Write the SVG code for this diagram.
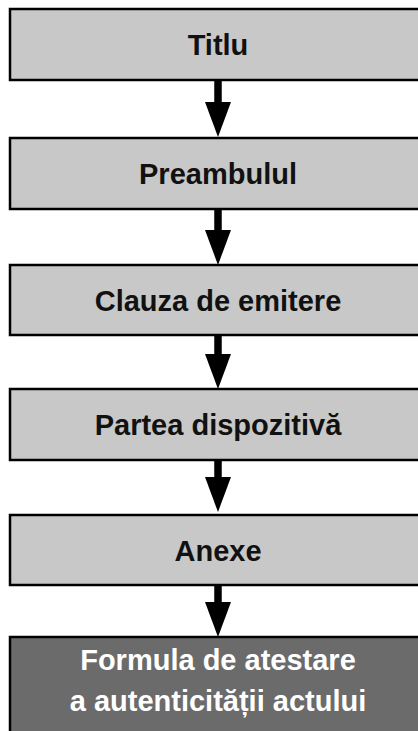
<svg xmlns="http://www.w3.org/2000/svg" width="418" height="731" viewBox="0 0 418 731">
<style>
.box{fill:#c8c8c8;stroke:#000;stroke-width:2.5}
.dark{fill:#6b6b6b;stroke:#000;stroke-width:2.5}
.lbl{font-family:"Liberation Sans",Arial,sans-serif;font-weight:bold;font-size:29px;text-anchor:middle;fill:#111}
.lblw{font-family:"Liberation Sans",Arial,sans-serif;font-weight:bold;font-size:29px;text-anchor:middle;fill:#fff}
.conn{stroke:#000;stroke-width:7.5;fill:none;marker-end:url(#ah)}
</style>
<defs>
<marker id="ah" markerUnits="userSpaceOnUse" viewBox="0 0 35 26" markerWidth="35" markerHeight="26" refX="0" refY="13" orient="auto">
<path d="M0,0 L35,13 L0,26 z" fill="#000"/>
</marker>
</defs>
<rect width="418" height="731" fill="#fff"/>
<g id="connectors">
<line class="conn" x1="218" y1="80" x2="218" y2="102"/>
<line class="conn" x1="218" y1="209" x2="218" y2="230"/>
<line class="conn" x1="218" y1="335" x2="218" y2="354"/>
<line class="conn" x1="218" y1="460" x2="218" y2="477"/>
<line class="conn" x1="218" y1="585" x2="218" y2="602"/>
</g>
<g id="n1"><rect class="box" x="10" y="9" width="418" height="71"/><text class="lbl" x="218" y="55">Titlu</text></g>
<g id="n2"><rect class="box" x="10" y="138" width="418" height="71"/><text class="lbl" x="218" y="184">Preambulul</text></g>
<g id="n3"><rect class="box" x="10" y="265" width="418" height="70"/><text class="lbl" x="218" y="310.5">Clauza de emitere</text></g>
<g id="n4"><rect class="box" x="10" y="389" width="418" height="71"/><text class="lbl" x="218" y="435">Partea dispozitivă</text></g>
<g id="n5"><rect class="box" x="10" y="515" width="418" height="70"/><text class="lbl" x="218" y="560.5">Anexe</text></g>
<g id="n6"><rect class="dark" x="10" y="637" width="418" height="110"/><text class="lblw" x="218" y="670">Formula de atestare</text><text class="lblw" x="218" y="711">a autenticității actului</text></g>
</svg>
